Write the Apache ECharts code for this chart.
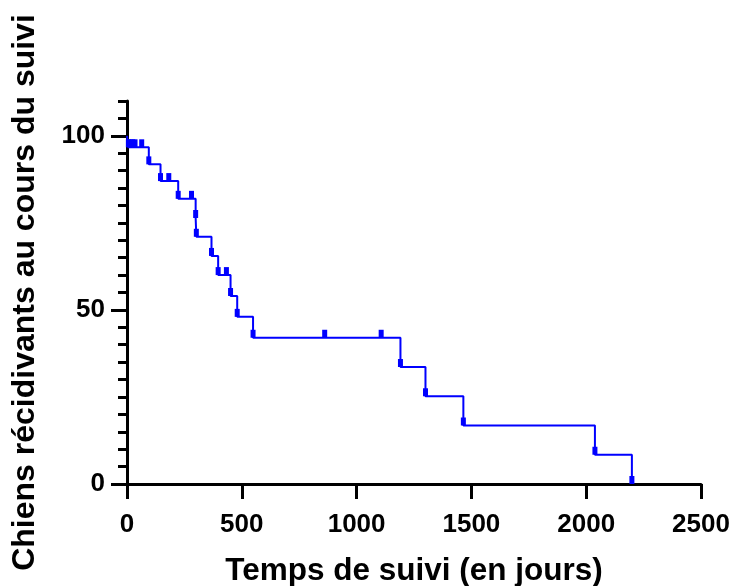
<!DOCTYPE html>
<html>
<head>
<meta charset="utf-8">
<script src="https://cdn.jsdelivr.net/npm/echarts@6/dist/echarts.min.js"></script>
<style>
  html,body{margin:0;padding:0;background:#fff;}
  #chart{width:735px;height:586px;}
</style>
</head>
<body>
<div id="chart"></div>
<script>
// jours où survient une récidive, et pourcentage restant juste après
const eventDays = [6, 95, 146, 223, 299, 302, 368, 397, 451, 480, 549, 1191, 1300, 1465, 2038, 2199]
const eventValues = [96.7, 91.8, 87.0, 81.9, 76.4, 71.0, 65.5, 60.0, 54.0, 48.0, 42.0, 33.6, 25.2, 16.8, 8.4, 0]
// chiens censurés (marques sur le palier)
const censorDays = [15, 25, 35, 64, 182, 281, 433, 861, 1107]
const censorValues = [96.7, 96.7, 96.7, 96.7, 87.0, 81.9, 60.0, 42.0, 42.0]
// graduations
const xTicks = [0, 500, 1000, 1500, 2000, 2500]
const yTicks = [0, 50, 100]

const font = "'Liberation Sans', Arial, Helvetica, sans-serif"

// courbe en escalier : départ à 100 %
const curve = [[0, 100]].concat(eventDays.map((d, i) => [d, eventValues[i]]))
const marks = eventDays.map((d, i) => [d, eventValues[i]])
  .concat(censorDays.map((d, i) => [d, censorValues[i]]))

const box = {left: 127, right: 34, top: 101, bottom: 102, containLabel: false, outerBoundsMode: 'none'}

const chart = echarts.init(document.getElementById('chart'))
chart.setOption({
  animation: false,
  grid: [Object.assign({}, box), Object.assign({}, box)],
  xAxis: [
    {
      type: 'value',
      gridIndex: 0,
      min: xTicks[0],
      max: xTicks[xTicks.length - 1],
      interval: 500,
      axisLine: {lineStyle: {color: '#000', width: 3}},
      axisTick: {length: 15, lineStyle: {color: '#000', width: 3}},
      axisLabel: {fontFamily: font, fontWeight: 'bold', fontSize: 26, color: '#000', margin: 28, formatter: v => String(v)},
      splitLine: {show: false}
    },
    {
      // grille 2 : sert seulement au titre de l'axe x
      type: 'value',
      gridIndex: 1,
      min: 0,
      max: 2500,
      name: 'Temps de suivi (en jours)',
      nameLocation: 'middle',
      nameGap: 71,
      nameTextStyle: {fontFamily: font, fontWeight: 'bold', fontSize: 31.5, color: '#000'},
      axisLine: {show: false},
      axisTick: {show: false},
      axisLabel: {show: false},
      splitLine: {show: false}
    }
  ],
  yAxis: [
    {
      // grandes graduations + étiquettes
      type: 'value',
      gridIndex: 0,
      min: 0,
      max: 110,
      interval: 5,
      axisLine: {show: true, lineStyle: {color: '#000', width: 3}},
      axisTick: {show: true, length: 16, customValues: yTicks, lineStyle: {color: '#000', width: 3}},
      axisLabel: {customValues: yTicks, fontFamily: font, fontWeight: 'bold', fontSize: 26, color: '#000', margin: 22, formatter: v => String(v)},
      splitLine: {show: false}
    },
    {
      // petites graduations tous les 5 + titre
      type: 'value',
      gridIndex: 1,
      min: 0,
      max: 110,
      interval: 5,
      name: 'Chiens récidivants au cours du suivi',
      nameLocation: 'middle',
      nameRotate: 90,
      nameGap: 86,
      nameTextStyle: {fontFamily: font, fontWeight: 'bold', fontSize: 32, color: '#000'},
      axisLine: {show: false},
      axisTick: {show: true, length: 9, lineStyle: {color: '#000', width: 3}},
      axisLabel: {show: false},
      splitLine: {show: false}
    }
  ],
  series: [
    {
      type: 'line',
      step: 'end',
      data: curve,
      xAxisIndex: 0,
      yAxisIndex: 0,
      symbol: 'none',
      lineStyle: {color: '#0000ff', width: 2}
    },
    {
      type: 'scatter',
      data: marks,
      xAxisIndex: 0,
      yAxisIndex: 0,
      symbol: 'rect',
      symbolSize: [5, 8],
      symbolOffset: [0, -4],
      itemStyle: {color: '#0000ff', opacity: 1}
    }
  ]
})
</script>
</body>
</html>
